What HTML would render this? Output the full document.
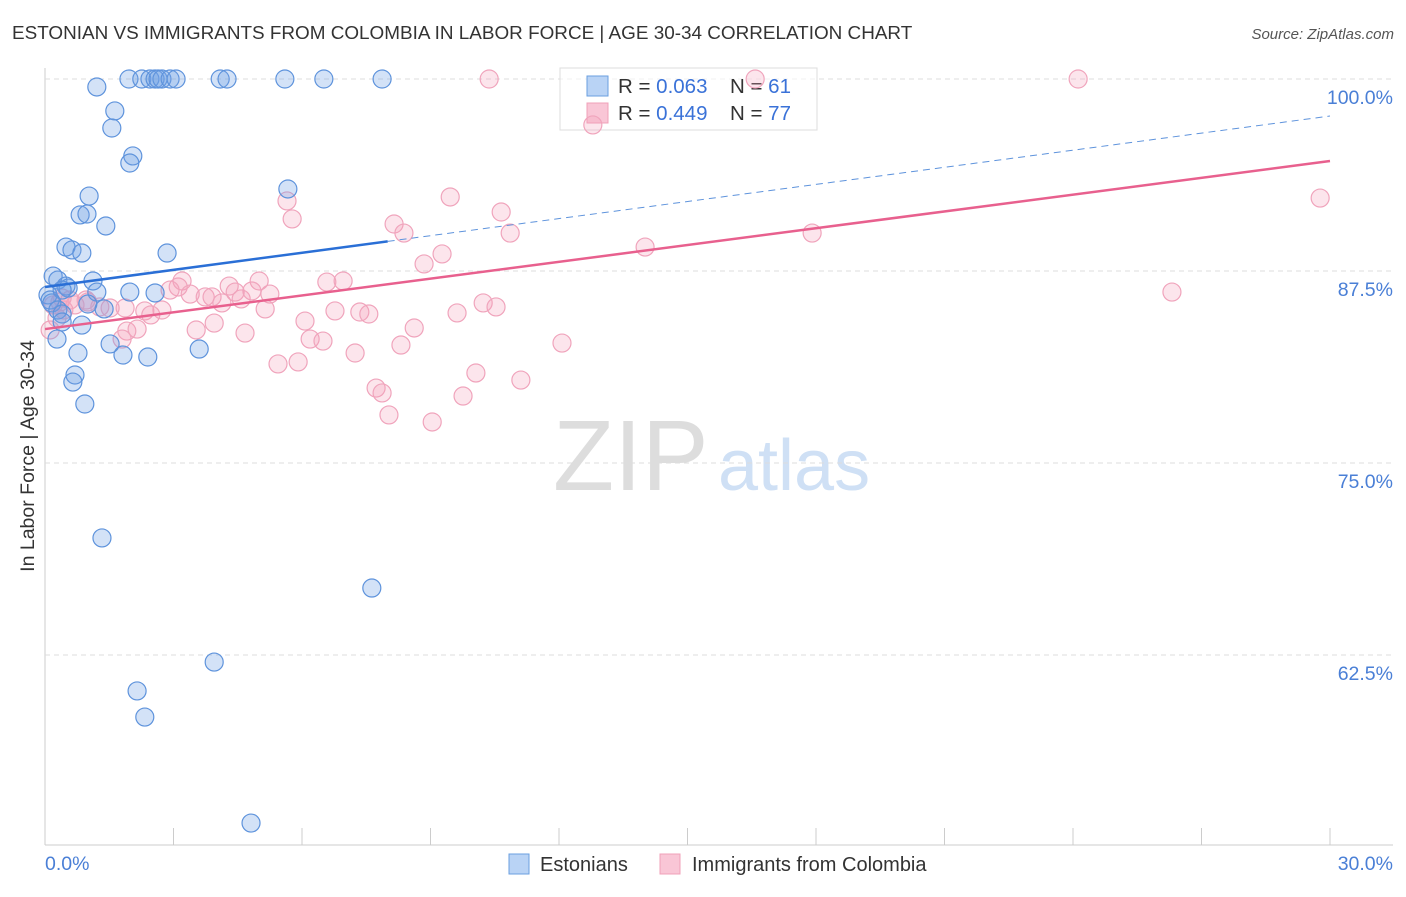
<!DOCTYPE html>
<html><head><meta charset="utf-8"><style>
body{margin:0;background:#fff;font-family:"Liberation Sans",sans-serif}
svg text{font-family:"Liberation Sans",sans-serif}
</style></head><body>
<svg id="c" width="1406" height="892">
<text x="12" y="39" font-size="18.9" fill="#333">ESTONIAN VS IMMIGRANTS FROM COLOMBIA IN LABOR FORCE | AGE 30-34 CORRELATION CHART</text>
<text x="1394" y="39" font-size="15" fill="#555" font-style="italic" text-anchor="end">Source: ZipAtlas.com</text>
<text transform="translate(34,456) rotate(-90)" font-size="19.5" fill="#333" text-anchor="middle">In Labor Force | Age 30-34</text>
<g><text x="553" y="490" font-size="100" fill="#ddd" font-family="Liberation Serif,serif">ZIP</text><text x="718" y="490" font-size="72" fill="#cfe0f5">atlas</text></g>
<g id="grid"></g>
<g>
<rect x="560" y="68" width="257" height="62" fill="#fff" fill-opacity="0.6" stroke="#ddd"/>
<rect x="587" y="76" width="21" height="20" fill="#b9d3f5" stroke="#6a9fe0"/>
<rect x="587" y="103" width="21" height="20" fill="#f9c6d6" stroke="#f0a0b8"/>
<text x="618" y="93" font-size="20.5" fill="#333">R = <tspan fill="#3a72d8">0.063</tspan><tspan x="730">N = </tspan><tspan fill="#3a72d8">61</tspan></text>
<text x="618" y="120" font-size="20.5" fill="#333">R = <tspan fill="#3a72d8">0.449</tspan><tspan x="730">N = </tspan><tspan fill="#3a72d8">77</tspan></text>
</g>
<g id="pts"></g><g id="lines"></g>
<g>
<rect x="509" y="854" width="20" height="20" fill="#b9d3f5" stroke="#6a9fe0"/>
<text x="540" y="871" font-size="20" fill="#333">Estonians</text>
<rect x="660" y="854" width="20" height="20" fill="#f9c6d6" stroke="#f0a0b8"/>
<text x="692" y="871" font-size="20" fill="#333">Immigrants from Colombia</text>
</g>
</svg>
<script>
const xTicks=[0,3,6,9,12,15,18,21,24,27,30];
const yTicks=[100,87.5,75,62.5];
const yTickLabels=["100.0%","87.5%","75.0%","62.5%"];
const estX=[1.21,1.96,2.26,2.45,2.57,2.64,2.73,2.92,3.06,4.09,4.25,5.60,6.51,7.87,1.63,1.56,2.05,1.98,1.03,0.82,0.98,1.42,5.67,0.49,0.63,0.86,2.85,0.19,0.30,1.12,0.49,0.54,0.07,0.12,0.40,1.21,1.98,2.57,0.16,0.30,0.40,1.00,1.38,0.40,0.86,0.28,1.52,0.77,1.82,2.40,3.60,0.70,0.65,0.93,1.33,7.63,3.95,2.15,2.33,4.81];
const estY=[99.48,100,100,100,100,100,100,100,100,100,100,100,100,100,97.92,96.81,94.99,94.53,92.38,91.15,91.21,90.43,92.84,89.06,88.87,88.67,88.67,87.17,86.91,86.85,86.52,86.39,85.94,85.61,86.26,86.13,86.13,86.07,85.42,84.96,84.70,85.35,85.03,84.18,83.98,83.07,82.75,82.16,82.03,81.90,82.42,80.73,80.27,78.84,70.12,66.86,62.04,60.16,58.46,51.56];
const colX=[10.37,16.58,24.12,12.79,5.65,5.77,9.46,10.65,8.15,8.38,10.86,9.27,8.85,14.01,17.91,29.77,3.20,3.11,2.92,3.39,3.74,3.90,4.30,4.44,4.58,5.00,4.83,5.25,6.58,6.96,4.13,5.14,6.07,3.53,3.95,4.67,6.77,7.35,7.56,8.62,9.62,10.23,10.53,26.31,1.87,1.52,2.33,2.73,2.47,1.91,2.15,1.80,6.19,6.49,7.24,8.31,12.07,5.44,5.91,10.06,11.11,7.73,7.87,9.76,8.03,9.04,0.19,0.35,0.44,0.28,0.58,0.70,1.00,1.28,0.12,0.96,0.40];
const colY=[100,100,100,97.01,92.06,90.89,92.32,91.34,90.56,89.97,89.97,88.61,87.96,89.06,89.97,92.25,86.85,86.46,86.26,86.00,85.81,85.81,86.52,86.13,85.68,86.85,86.20,86.00,86.78,86.85,85.42,85.03,84.24,83.66,84.11,83.46,84.90,84.83,84.70,83.79,84.77,85.42,85.16,86.13,85.09,85.09,84.90,84.96,84.64,83.59,83.72,83.07,83.07,82.94,82.16,82.68,82.81,81.45,81.58,80.86,80.40,79.88,79.56,79.36,78.13,77.67,85.29,85.48,84.96,84.44,85.61,85.29,85.48,85.16,83.66,85.61,85.74];
const estTrend=[86.46,97.59], estSolidEnd=8.0;
const colTrend=[83.72,94.66];
const NS="http://www.w3.org/2000/svg";
const sx=v=>45+v/30*1285, sy=v=>79+(100-v)*15.36;
function mk(t,a,p){const e=document.createElementNS(NS,t);for(const k in a)e.setAttribute(k,a[k]);p.appendChild(e);return e;}
const g=document.getElementById('grid');
let e=mk('line',{x1:45,y1:68,x2:45,y2:845,stroke:'#ccc'},g);


e=mk('line',{x1:45,y1:845,x2:1393,y2:845,stroke:'#ccc'},g);


xTicks.forEach(t=>{e=mk('line',{x1:sx(t),x2:sx(t),y1:828,y2:845,stroke:'#ccc'},g);

});
yTicks.forEach((t,i)=>{e=mk('line',{x1:45,x2:1393,y1:sy(t),y2:sy(t),stroke:'#ddd','stroke-dasharray':'5,4'},g);


e=mk('text',{x:1393,y:sy(t)+25,'font-size':19.5,fill:'#4a7fd6','text-anchor':'end'},g);e.textContent=yTickLabels[i];

});
e=mk('text',{x:45,y:870,'font-size':19.5,fill:'#4a7fd6'},g);e.textContent='0.0%';


e=mk('text',{x:1393,y:870,'font-size':19.5,fill:'#4a7fd6','text-anchor':'end'},g);e.textContent='30.0%';


const p=document.getElementById('pts');
colX.forEach((x,i)=>{e=mk('circle',{cx:sx(x),cy:sy(colY[i]),r:9,fill:'rgba(244,160,188,0.28)',stroke:'#f0a4bc','stroke-width':1.2},p);

});
estX.forEach((x,i)=>{e=mk('circle',{cx:sx(x),cy:sy(estY[i]),r:9,fill:'rgba(110,160,230,0.3)',stroke:'#5e93dc','stroke-width':1.2},p);

});
const L=document.getElementById('lines');
const ey=x=>estTrend[0]+(estTrend[1]-estTrend[0])*x/30;
e=mk('line',{x1:sx(0),y1:sy(estTrend[0]),x2:sx(estSolidEnd),y2:sy(ey(estSolidEnd)),stroke:'#2a6fd6','stroke-width':2.5},L);


e=mk('line',{x1:sx(estSolidEnd),y1:sy(ey(estSolidEnd)),x2:sx(30),y2:sy(estTrend[1]),stroke:'#5e93dc','stroke-width':1,'stroke-dasharray':'7,5'},L);


e=mk('line',{x1:sx(0),y1:sy(colTrend[0]),x2:sx(30),y2:sy(colTrend[1]),stroke:'#e8608e','stroke-width':2.5},L);


</script>
</body></html>
